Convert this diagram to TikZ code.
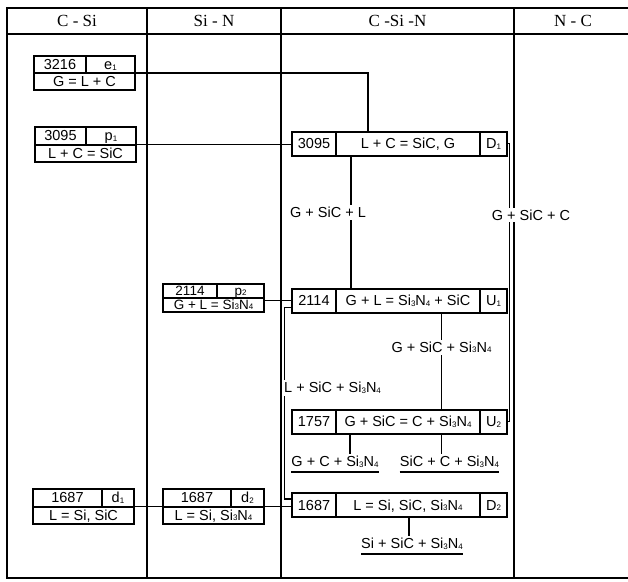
\documentclass[tikz,border=0pt]{standalone}
\usepackage{fontspec}
\setmainfont{Liberation Serif}
\setsansfont{Liberation Sans}
\usepackage{tikz}
\usetikzlibrary{positioning}
\newcommand{\sbs}[1]{\raisebox{-0.6pt}{\fontsize{8}{8}\selectfont #1}}
\newcommand{\nitride}{Si\sbs{3}N\sbs{4}}

\begin{document}
\begin{tikzpicture}[x=1pt,y=-1pt,
	grid/.style={line width=2pt},
	cell/.style={draw,line width=2pt,outer sep=0pt,inner sep=0pt,text height=10.4pt,text depth=0pt,
		font=\sffamily\fontsize{14.5}{16}\selectfont},
	link/.style={line width=1.7pt},
	phase/.style={fill=white,inner xsep=1.5pt,inner ysep=2pt,font=\sffamily\fontsize{14.5}{16}\selectfont},
	uline/.style={inner xsep=0pt,inner ysep=2pt,text height=10.5pt,text depth=3pt,
		font=\sffamily\fontsize{14.5}{16}\selectfont},
	head/.style={font=\rmfamily\fontsize{17}{19}\selectfont}]
	\useasboundingbox (0,0) rectangle (628,581);
	\draw[grid] (628,7.5) -- (7,7.5) -- (7,578) -- (628,578);
	\draw[grid] (7,33.5) -- (628,33.5);
	\foreach \x in {147,281,514}{\draw[grid] (\x,7.5) -- (\x,578);}
	\node[head] (hCSi) at (77,20.5) {C - Si};
	\node[head] (hSiN) at (214,20.5) {Si - N};
	\node[head] (hCSiN) at (397.5,20.5) {C -Si -N};
	\node[head] (hNC) at (573,20.5) {N - C};
	\foreach \n/\y/\t/\r/\l in {D1/143.5/3095/{L + C = SiC, G}/D\sbs{1},
		U1/300.5/2114/{G + L = \nitride{} + SiC}/U\sbs{1},
		U2/421.5/1757/{G + SiC = C + \nitride}/U\sbs{2},
		D2/505/1687/{L = Si, SiC, \nitride}/D\sbs{2}}{
		\node[cell,minimum width=44pt,minimum height=24pt,anchor=west] (\n-t) at (292,\y) {\t};
		\node[cell,minimum width=144pt,minimum height=24pt,right=0pt of \n-t] (\n-r) {\r};
		\node[cell,minimum width=27pt,minimum height=24pt,right=0pt of \n-r] (\n-l) {\l};
	}
	\foreach \n/\x/\y/\h/\tw/\fs/\t/\l/\r in {e1/34/56/17/52/14.5/3216/e\sbs{1}/{G = L + C},
		p1/35/127/17.5/51/14.5/3095/p\sbs{1}/{L + C = SiC},
		p2/163/283.5/14/54/13.5/2114/p\sbs{2}/{G + L = \nitride},
		d1/33/489/17.5/69/14.5/1687/d\sbs{1}/{L = Si, SiC},
		d2/163/489/17.5/68/14.5/1687/d\sbs{2}/{L = Si, \nitride}}{
		\node[cell,font=\sffamily\fontsize{\fs}{\fs}\selectfont,text height=0.7*\fs pt,
			minimum width=\tw*1pt,minimum height=\h*1pt,anchor=north west] (\n-t) at (\x,\y) {\t};
		\node[cell,font=\sffamily\fontsize{\fs}{\fs}\selectfont,text height=0.7*\fs pt,
			minimum width={(101-\tw)*1pt},minimum height=\h*1pt,right=0pt of \n-t] (\n-l) {\l};
		\node[cell,font=\sffamily\fontsize{\fs}{\fs}\selectfont,text height=0.7*\fs pt,
			minimum width=101pt,minimum height=\h*1pt,anchor=north west] (\n-b) at (\n-t.south west) {\r};
	}
	\node[uline] (fGCN) at (335,463.2) {G + C + \nitride};
	\node[uline] (fSCN) at (449.5,463.2) {SiC + C + \nitride};
	\node[uline] (fSSN) at (412,544.8) {Si + SiC + \nitride};
	\foreach \u in {fGCN,fSCN,fSSN}{\draw[link] (\u.south west) -- (\u.south east);}
	\draw[link] (e1-b.north east) -| ([xshift=32pt]D1-r.north west);
	\draw[link] (p1-b.north east) -- (p1-b.north east -| D1-t.west);
	\draw[link] (U1-t.west) -- (U1-t.west -| p2-b.east);
	\draw[link] (d1-b.north east) -- (d2-b.north west);
	\draw[link] (d2-b.north east) -- (d2-b.north east -| D2-t.west);
	\draw[link] ([xshift=15pt]D1-r.south west) -- ([xshift=15pt]U1-r.north west)
		node[phase,pos=0.43,xshift=-23pt] (fGSL) {G + SiC + L};
	\draw[link] (D1-l.east) -- ++(2.5,0) |- (U2-l.east);
	\node[phase] (fGSC) at (531,215) {G + SiC + C};
	\draw[link] ([xshift=105.5pt]U1-r.south west) -- ([xshift=105.5pt]U2-r.north west)
		node[phase,pos=0.36] (fGSN) {G + SiC + \nitride};
	\draw[link] ([yshift=-7pt]U1-t.west) -- ++(-7.5,0) |- ([yshift=6pt]D2-t.west);
	\node[phase,anchor=west,inner xsep=0.5pt] (fLSN) at (283.5,388) {L + SiC + \nitride};
	\draw[link] ([xshift=14pt]U2-r.south west) -- ([xshift=14pt]U2-r.south west |- fGCN.north);
	\draw[link] ([xshift=105.5pt]U2-r.south west) -- ([xshift=105.5pt]U2-r.south west |- fSCN.north);
	\draw[link] ([xshift=73pt]D2-r.south west) -- ([xshift=73pt]D2-r.south west |- fSSN.north);
\end{tikzpicture}
\end{document}
